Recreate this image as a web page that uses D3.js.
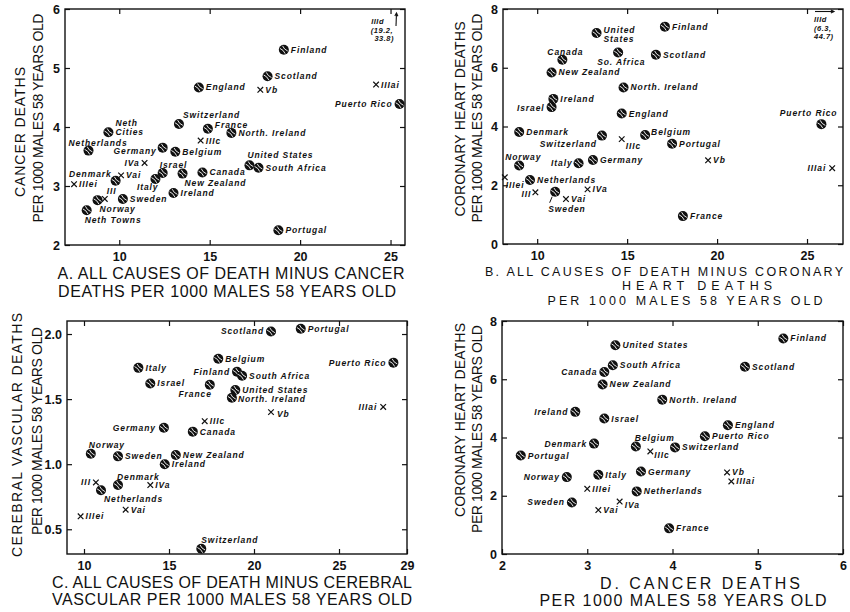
<!DOCTYPE html>
<html>
<head>
<meta charset="utf-8">
<script src="https://cdn.jsdelivr.net/npm/d3@7"></script>
<style>
body { margin: 0; background: #fff; }
svg { font-family: "Liberation Sans", Arial, sans-serif; }
.tick text { font-size: 12.5px; font-weight: bold; fill: #111; }
.tick line { stroke: #111; stroke-width: 1.2; }
.lbl { font-size: 8.5px; font-weight: bold; font-style: italic; fill: #111; letter-spacing: 0.9px; }
.note { font-size: 7.5px; font-weight: bold; font-style: italic; fill: #111; letter-spacing: 0.5px; }
.xt { font-size: 16px; fill: #111; }
.xt.small { font-size: 12.5px; }
.yt { font-size: 14px; fill: #111; }
</style>
</head>
<body>
<svg id="chart" width="850" height="612"></svg>
<script>
// A. cancer deaths vs all causes minus cancer
const aNames = ["England","Switzerland","France","North. Ireland","Neth Cities","Netherlands","Germany","Belgium",
  "Israel","Italy","Canada","New Zealand","Ireland","Sweden","Denmark","Norway","Neth Towns","Finland","Scotland",
  "Puerto Rico","United States","South Africa","Portugal","IIIc","IVa","Vai","IIIei","III","Vb","IIIai"];
const aX = [14.4,13.3,14.9,16.2,9.4,8.3,12.4,13.1,12.4,12.0,14.6,13.5,13.0,10.2,9.8,8.8,8.2,19.1,18.2,
  25.5,17.2,17.7,18.8,14.5,11.4,10.1,7.5,9.2,17.8,24.2];
const aY = [4.67,4.05,3.97,3.90,3.91,3.60,3.65,3.58,3.22,3.12,3.23,3.21,2.88,2.78,3.09,2.76,2.59,5.31,4.86,
  4.39,3.35,3.31,2.25,3.77,3.39,3.18,3.03,2.78,4.63,4.72];
const aXTicks = [10,15,20,25];
const aYTicks = [2,3,4,5,6];
const aOffscale = ["IIId", 19.2, 33.8];

// B. coronary heart deaths vs all causes minus coronary
const bNames = ["United States","Canada","So. Africa","New Zealand","Scotland","Finland","North. Ireland","Ireland",
  "Israel","England","Denmark","Switzerland","Belgium","Portugal","Puerto Rico","France","Norway","Italy","Germany",
  "Netherlands","Sweden","IIIc","Vb","IIIai","IIIei","III","Vai","IVa"];
const bX = [13.3,11.4,14.5,10.8,16.6,17.1,14.8,10.9,10.8,14.7,9.0,13.6,16.0,17.5,25.8,18.1,9.0,12.3,13.1,
  9.6,11.0,14.7,19.5,26.4,8.2,9.9,11.6,12.8];
const bY = [7.18,6.27,6.52,5.84,6.44,7.40,5.33,4.94,4.66,4.44,3.81,3.69,3.71,3.41,4.08,0.95,2.67,2.75,2.86,
  2.18,1.78,3.57,2.85,2.58,2.27,1.76,1.53,1.86];
const bXTicks = [10,15,20,25];
const bYTicks = [0,2,4,6,8];
const bOffscale = ["IIId", 6.3, 44.7];

// C. cerebral vascular deaths vs all causes minus cerebral vascular
const cNames = ["Scotland","Portugal","Belgium","Finland","South Africa","Puerto Rico","United States","North. Ireland",
  "France","Italy","Israel","Germany","Canada","Norway","Sweden","New Zealand","Ireland","Denmark","Netherlands",
  "Switzerland","Vb","IIIai","IIIc","III","IVa","Vai","IIIei"];
const cX = [21.0,22.75,17.9,19.0,19.3,28.2,18.9,18.7,17.4,13.2,13.9,14.7,16.4,10.4,12.0,15.4,14.75,12.0,11.0,
  16.9,21.0,27.6,17.1,10.7,13.9,12.45,9.8];
const cY = [2.02,2.04,1.81,1.71,1.68,1.78,1.57,1.51,1.61,1.74,1.62,1.28,1.25,1.08,1.06,1.07,1.00,0.84,0.80,
  0.35,1.40,1.44,1.33,0.86,0.84,0.65,0.60];
const cXTicks = [10,15,20,25,29];
const cYTicks = [0.5,1.0,1.5,2.0];

// D. coronary heart deaths vs cancer deaths
const dNames = ["United States","South Africa","Canada","New Zealand","Ireland","Israel","Denmark","Portugal",
  "Norway","Italy","Sweden","Belgium","Germany","Netherlands","North. Ireland","Switzerland","Puerto Rico",
  "England","Scotland","Finland","France","IIIei","Vai","IVa","IIIc","Vb","IIIai"];
const dX = [3.33,3.30,3.20,3.18,2.86,3.20,3.08,2.22,2.76,3.13,2.82,3.57,3.63,3.58,3.88,4.03,4.38,
  4.65,4.85,5.30,3.96,3.0,3.13,3.38,3.74,4.64,4.69];
const dY = [7.17,6.48,6.25,5.82,4.88,4.65,3.79,3.38,2.64,2.72,1.77,3.69,2.83,2.15,5.30,3.66,4.04,
  4.42,6.43,7.40,0.88,2.24,1.51,1.80,3.52,2.80,2.49];
const dXTicks = [2,3,4,5,6];
const dYTicks = [0,2,4,6,8];

// sample groups drawn with an x instead of a ball
const crossNames = ["III","IIIc","IIIei","IIIai","IVa","Vai","Vb"];

// label placement: [dx, dy, anchor, text override]
const aPlace = {
  "Switzerland": [4,-6.5], "France": [7,-1], "Neth Cities": [7,-6,"start","Neth\nCities"],
  "Netherlands": [-20,-5], "Germany": [-6,6,"end"], "Israel": [-3,-5], "Italy": [3,11,"end"],
  "New Zealand": [2,12], "Denmark": [-4,-4,"end"], "Norway": [2,12], "Neth Towns": [-2,13],
  "III": [2,-5], "IVa": [-5,3,"end"], "Puerto Rico": [-7,3,"end"], "United States": [-2,-7]
};
const bPlace = {
  "United States": [7,0,"start","United\nStates"], "Canada": [-15,-5], "So. Africa": [-21,13],
  "Israel": [-7,4,"end"], "Switzerland": [-5,11,"end"], "IIIc": [4,10], "Belgium": [6,0],
  "Puerto Rico": [16,-8,"end"], "IIIai": [-6,3,"end"], "Norway": [-14,-6], "Italy": [-6,3,"end"],
  "IIIei": [1,11], "III": [-4,5,"end"], "Sweden": [-7,20]
};
const cPlace = {
  "Scotland": [-7,3,"end"], "Finland": [-7,3,"end"], "Puerto Rico": [-7,3,"end"], "North. Ireland": [6,4],
  "France": [2,12,"end"], "Vb": [6,5], "IIIai": [-6,3,"end"], "Germany": [-8,3,"end"], "Norway": [-2,-6],
  "Denmark": [-1,-5], "Netherlands": [3,12], "III": [-5,3,"end"], "Switzerland": [0,-6]
};
const dPlace = {
  "Canada": [-7,3,"end"], "Ireland": [-7,3,"end"], "Denmark": [-7,3,"end"], "Norway": [-7,3,"end"],
  "Sweden": [-7,3,"end"], "Belgium": [-1,-6], "IIIc": [4,7], "IVa": [5,6]
};

const svg = d3.select("#chart");
const isCross = n => crossNames.includes(n);

const panels = [
  { names: aNames, xs: aX, ys: aY, xTicks: aXTicks, yTicks: aYTicks, xDomain: [7,25.8], yDomain: [2,6],
    box: [65,9,405,245], yFmt: d3.format("d"), place: aPlace, xCls: "xt",
    xTitle: [["A. ALL CAUSES OF DEATH MINUS CANCER",231,279,347],["DEATHS PER 1000 MALES 58 YEARS OLD",227,297,338]],
    yTitle: [["CANCER DEATHS",25,132,130],["PER 1000 MALES 58 YEARS OLD",43,118,209]] },
  { names: bNames, xs: bX, ys: bY, xTicks: bXTicks, yTicks: bYTicks, xDomain: [8.1,27], yDomain: [0,8],
    box: [503,9,843,244], yFmt: d3.format("d"), place: bPlace, xCls: "xt small",
    xTitle: [["B. ALL CAUSES OF DEATH MINUS CORONARY",664,275.5,358],["HEART DEATHS",697,290,150],["PER 1000 MALES 58 YEARS OLD",685,304.5,275]],
    yTitle: [["CORONARY HEART DEATHS",465,119,195],["PER 1000 MALES 58 YEARS OLD",482,118,209]] },
  { names: cNames, xs: cX, ys: cY, xTicks: cXTicks, yTicks: cYTicks, xDomain: [9,29], yDomain: [0.31,2.1],
    box: [67,321,407,554], yFmt: d3.format(".1f"), place: cPlace, xCls: "xt",
    xTitle: [["C. ALL CAUSES OF DEATH MINUS CEREBRAL",232,588,360],["VASCULAR PER 1000 MALES 58 YEARS OLD",232,605,360]],
    yTitle: [["CEREBRAL VASCULAR DEATHS",22,435,244],["PER 1000 MALES 58 YEARS OLD",42,431,208]] },
  { names: dNames, xs: dX, ys: dY, xTicks: dXTicks, yTicks: dYTicks, xDomain: [2,6], yDomain: [0,8],
    box: [502,321,843,554], yFmt: d3.format("d"), place: dPlace, xCls: "xt",
    xTitle: [["D. CANCER DEATHS",700,589,200],["PER 1000 MALES 58 YEARS OLD",683,606,287]],
    yTitle: [["CORONARY HEART DEATHS",465,420,194],["PER 1000 MALES 58 YEARS OLD",482,429,208]] }
];

function drawPanel(p) {
  const [l, t, r, b] = p.box;
  const x = d3.scaleLinear().domain(p.xDomain).range([l, r]);
  const y = d3.scaleLinear().domain(p.yDomain).range([b, t]);
  const g = svg.append("g");

  const noDomain = a => a.select(".domain").remove();
  g.append("g").attr("transform", `translate(0,${b})`)
    .call(d3.axisBottom(x).tickValues(p.xTicks).tickSizeInner(-5).tickSizeOuter(0).tickPadding(7).tickFormat(d3.format("d")))
    .call(noDomain);
  g.append("g").attr("transform", `translate(0,${t})`)
    .call(d3.axisTop(x).tickValues(p.xTicks).tickSizeInner(-5).tickSizeOuter(0).tickFormat(""))
    .call(noDomain);
  g.append("g").attr("transform", `translate(${l},0)`)
    .call(d3.axisLeft(y).tickValues(p.yTicks).tickSizeInner(-5).tickSizeOuter(0).tickPadding(5).tickFormat(p.yFmt))
    .call(noDomain);
  g.append("g").attr("transform", `translate(${r},0)`)
    .call(d3.axisRight(y).tickValues(p.yTicks).tickSizeInner(-5).tickSizeOuter(0).tickFormat(""))
    .call(noDomain);

  g.append("rect").attr("x", l).attr("y", t).attr("width", r - l).attr("height", b - t)
    .attr("fill", "none").attr("stroke", "#111").attr("stroke-width", 1.4);

  const pts = g.selectAll("g.pt").data(d3.range(p.names.length)).join("g")
    .attr("class", "pt")
    .attr("transform", i => `translate(${x(p.xs[i])},${y(p.ys[i])})`);

  pts.filter(i => isCross(p.names[i])).append("path")
    .attr("d", "M-2.8,-2.8L2.8,2.8M2.8,-2.8L-2.8,2.8")
    .attr("stroke", "#111").attr("stroke-width", 1.2);

  const balls = pts.filter(i => !isCross(p.names[i]));
  balls.append("circle").attr("r", 5).attr("fill", "#111");
  balls.append("path")
    .attr("d", "M-3.9,-1.3Q-0.2,0.2 1.3,3.9M-1.3,-3.9Q0.2,-0.2 3.9,1.3")
    .attr("fill", "none").attr("stroke", "#fff").attr("stroke-width", 0.9);

  pts.append("text").attr("class", "lbl").each(function(i) {
    const name = p.names[i];
    const def = isCross(name) ? [5,3,"start"] : [7,3,"start"];
    const pl = p.place[name] || def;
    const txt = (pl[3] || name).split("\n");
    const el = d3.select(this).attr("text-anchor", pl[2] || "start");
    txt.forEach((s, k) => el.append("tspan").attr("x", pl[0]).attr("y", pl[1] + k * 9).text(s));
  });

  p.xTitle.forEach(([s, cx, by, len]) => {
    g.append("text").attr("class", p.xCls).attr("x", cx).attr("y", by).attr("text-anchor", "middle")
      .attr("textLength", len).attr("lengthAdjust", "spacing").text(s);
  });
  p.yTitle.forEach(([s, bx, cy, len]) => {
    g.append("text").attr("class", "yt").attr("text-anchor", "middle")
      .attr("transform", `translate(${bx},${cy}) rotate(-90)`)
      .attr("textLength", len).attr("lengthAdjust", "spacing").text(s);
  });
  return { g, x, y };
}

const drawn = panels.map(drawPanel);

// off-scale point notes
function arrowHead(g, x1, y1, x2, y2) {
  g.append("line").attr("x1", x1).attr("y1", y1).attr("x2", x2).attr("y2", y2)
    .attr("stroke", "#111").attr("stroke-width", 1.1);
  const ang = Math.atan2(y2 - y1, x2 - x1);
  const h = 3.5;
  const p1 = [x2 - h * Math.cos(ang - 0.45), y2 - h * Math.sin(ang - 0.45)];
  const p2 = [x2 - h * Math.cos(ang + 0.45), y2 - h * Math.sin(ang + 0.45)];
  g.append("path").attr("d", `M${p1}L${x2},${y2}L${p2}`).attr("fill", "none")
    .attr("stroke", "#111").attr("stroke-width", 1.1);
}

{
  const g = drawn[0].g, r = panels[0].box[2], t = panels[0].box[1];
  const lines = [aOffscale[0], `(${aOffscale[1]},`, `${aOffscale[2]})`];
  const ends = [r - 21, r - 12, r - 11];
  lines.forEach((s, k) => g.append("text").attr("class", "note").attr("text-anchor", "end")
    .attr("x", ends[k]).attr("y", t + 15 + k * 8.5).text(s));
  arrowHead(g, r - 9, t + 17, r - 8.5, t + 4);
}
{
  const g = drawn[1].g, r = panels[1].box[2], t = panels[1].box[1];
  const lines = [bOffscale[0], `(${bOffscale[1]},`, `${bOffscale[2]})`];
  lines.forEach((s, k) => g.append("text").attr("class", "note").attr("text-anchor", "start")
    .attr("x", r - 29).attr("y", t + 13 + k * 8.7).text(s));
  arrowHead(g, r - 28, t + 2.5, r - 9, t + 2.5);
}
// leader from Sweden marker to its label in B
{
  const i = bNames.indexOf("Sweden");
  const cx = drawn[1].x(bX[i]), cy = drawn[1].y(bY[i]);
  drawn[1].g.append("line").attr("x1", cx - 3).attr("y1", cy + 5).attr("x2", cx - 5.5).attr("y2", cy + 11)
    .attr("stroke", "#111").attr("stroke-width", 1);
}
</script>
</body>
</html>
